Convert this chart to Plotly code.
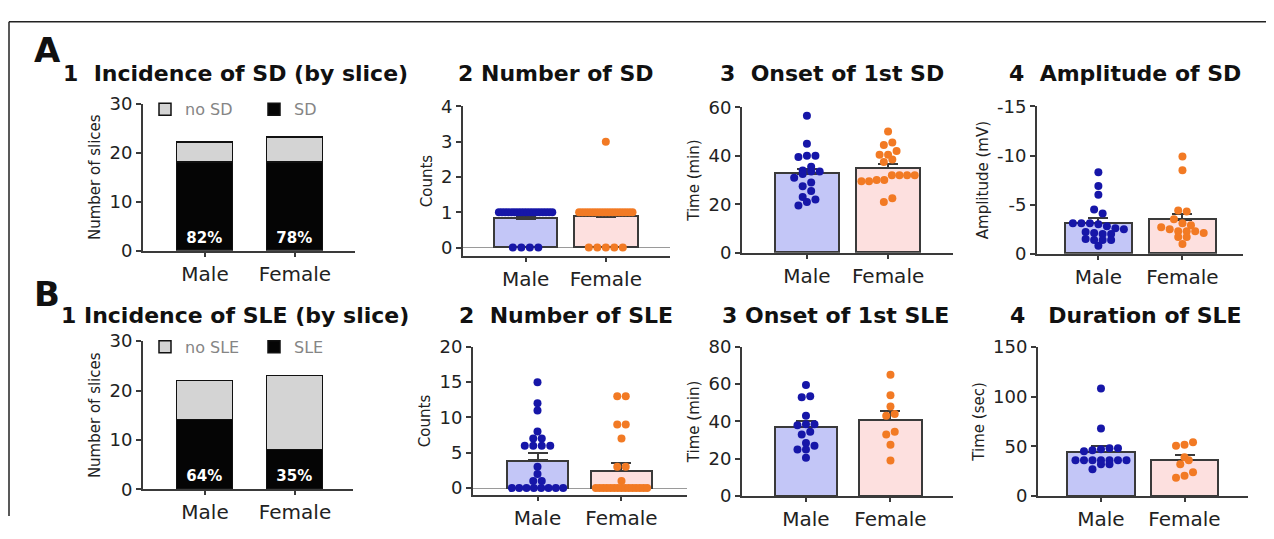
import plotly.graph_objects as go

# The page body has an 8px margin: the figure is sized so that the page is exactly the window,
# and all layout positions below are given in window pixels.
WIN_W, WIN_H = 1274, 539
OFF = 8
W, H = WIN_W - 2 * OFF, WIN_H - 2 * OFF

groups = ["Male", "Female"]

# ---- Row A : spreading depolarization (SD) ----
sd_yes = [18, 18]
sd_no = [4, 5]
sd_pct = ["82%", "78%"]

sd_num_male = [1, 1, 1, 1, 1, 1, 1, 1, 1, 1, 1, 1, 1, 1, 1, 1, 1, 1, 0, 0, 0, 0]
sd_num_female = [3, 1, 1, 1, 1, 1, 1, 1, 1, 1, 1, 1, 1, 1, 1, 1, 1, 1, 0, 0, 0, 0, 0]
sd_num_mean = [0.82, 0.87]
sd_num_sem = [0.08, 0.13]

sd_onset_male = [56.5, 45, 40, 39.5, 40, 33.5, 33.5, 34, 35.5, 31, 29, 32.5, 27.5, 25.5, 22, 23, 19.5, 21]
sd_onset_female = [50, 44.5, 45.5, 40.5, 42, 40.5, 38.5, 37.5, 32, 32, 32, 32, 30, 29.5, 30, 29.5, 21, 22.5]
sd_onset_mean = [32.7, 35.0]
sd_onset_sem = [2.0, 1.8]

sd_amp_male = [-8.3, -6.9, -6.0, -4.5, -4.1, -3.1, -3.0, -3.1, -3.1, -2.8, -2.6, -2.5, -2.1, -2.0, -2.2, -2.0,
               -1.4, -1.4, -1.4, -1.5, -0.8]
sd_amp_female = [-9.9, -8.5, -4.4, -4.3, -3.5, -3.1, -2.9, -2.7, -2.5, -2.3, -2.3, -2.3, -2.1, -1.7, -1.7, -1.0]
sd_amp_mean = [-3.1, -3.45]
sd_amp_sem = [0.55, 0.6]

# ---- Row B : seizure-like events (SLE) ----
sle_yes = [14, 8]
sle_no = [8, 15]
sle_pct = ["64%", "35%"]

sle_num_male = [15, 12, 11, 8, 7, 7, 6, 6, 6, 6, 3, 2, 1, 1, 0, 0, 0, 0, 0, 0, 0, 0]
sle_num_female = [13, 13, 9, 9, 7, 3, 3, 1, 0, 0, 0, 0, 0, 0, 0, 0, 0, 0, 0, 0, 0, 0, 0]
sle_num_mean = [3.9, 2.4]
sle_num_sem = [1.0, 1.1]

sle_onset_male = [59.5, 53, 53.5, 43, 38.5, 38, 38.5, 33, 34.5, 27, 25, 25, 28.5, 20.5]
sle_onset_female = [65, 54, 48, 44, 43, 34.5, 33, 27.5, 19]
sle_onset_mean = [37.0, 40.8]
sle_onset_sem = [3.2, 4.7]

sle_dur_male = [108, 68, 48, 48, 47, 46, 45, 36, 36, 36, 36, 36, 36, 36, 32, 32, 27]
sle_dur_female = [54, 51.5, 50.5, 39, 36, 32, 24, 20.5, 18.5]
sle_dur_mean = [44.5, 36.0]
sle_dur_sem = [5.5, 5.0]

# ---- styling ----
FONT = "DejaVu Sans"
TXT = "#222222"
AX = "#3a3a3a"
MALE_FILL = "#c3c6f7"
FEMALE_FILL = "#fde0df"
MALE_DOT = "#1616a8"
FEMALE_DOT = "#f27a24"
DOT = 8

fig = go.Figure()


def px_x(p):
    return (p - OFF) / W


def px_y(p):
    return 1 - (p - OFF) / H


# panel geometry (window pixels): x-axis left/right, y top/bottom, x range, bar width
panels = [
    ("", 143, 355, 97, 252, [-0.689, 1.667], 0.63),
    ("2", 463, 670, 100, 257, [-0.78, 1.80], 0.79),
    ("3", 742, 953, 101, 254, [-0.80, 1.80], 0.78),
    ("4", 1037, 1243, 100, 255, [-0.73, 1.72], 0.80),
    ("5", 143, 353, 347, 503, [-0.689, 1.644], 0.63),
    ("6", 473, 687, 353, 509, [-0.768, 1.78], 0.73),
    ("7", 742, 953, 353, 510, [-0.757, 1.74], 0.74),
    ("8", 1038, 1248, 353, 510, [-0.754, 1.76], 0.81),
]

yspecs = [
    ([0, 30], [0, 10, 20, 30], ["0", "10", "20", "30"], "Number of slices", False),
    ([-0.23, 4], [0, 1, 2, 3, 4], ["0", "1", "2", "3", "4"], "Counts", True),
    ([0, 60], [0, 20, 40, 60], ["0", "20", "40", "60"], "Time (min)", False),
    ([0, -15], [0, -5, -10, -15], ["0", "-5", "-10", "-15"], "Amplitude (mV)", False),
    ([0, 30], [0, 10, 20, 30], ["0", "10", "20", "30"], "Number of slices", False),
    ([-1, 20], [0, 5, 10, 15, 20], ["0", "5", "10", "15", "20"], "Counts", True),
    ([0, 80], [0, 20, 40, 60, 80], ["0", "20", "40", "60", "80"], "Time (min)", False),
    ([0, 150], [0, 50, 100, 150], ["0", "50", "100", "150"], "Time (sec)", False),
]

scale = {}
layout_axes = {}
for (pid, xl, xr, yt, yb, xr_rng, bw), (yr, tv, tt, ytitle, zero) in zip(panels, yspecs):
    scale[pid] = ((xr - xl) / (xr_rng[1] - xr_rng[0]), (yb - yt) / abs(yr[1] - yr[0]), bw)
    layout_axes["xaxis" + pid] = dict(
        domain=[px_x(xl), px_x(xr)], range=xr_rng, anchor="y" + pid,
        tickvals=[0, 1], ticktext=groups, showline=True, linecolor=AX, linewidth=2,
        ticks="outside", ticklen=4, tickwidth=2, tickcolor=AX, showgrid=False, zeroline=False,
        tickfont=dict(size=20, color=TXT, family=FONT), fixedrange=True)
    layout_axes["yaxis" + pid] = dict(
        domain=[px_y(yb), px_y(yt)], range=yr, anchor="x" + pid,
        tickvals=tv, ticktext=tt, showline=True, linecolor=AX, linewidth=2,
        ticks="outside", ticklen=5, tickwidth=2, tickcolor=AX, showgrid=False,
        zeroline=zero, zerolinecolor="#9a9a9a", zerolinewidth=1,
        tickfont=dict(size=18, color=TXT, family=FONT),
        title=dict(text=ytitle, font=dict(size=15, color=TXT, family=FONT), standoff=5),
        fixedrange=True)


def swarm(vals, pid):
    """Scatter-dot-plot layout: points closer than a dot diameter share a row."""
    ppx, ppy, bw = scale[pid]
    half = bw * ppx / 2 - DOT / 2 - 1
    order = sorted(range(len(vals)), key=lambda i: vals[i])
    rows = []
    for i in order:
        ypix = vals[i] * ppy
        if rows and abs(ypix - rows[-1][0]) < DOT * 0.85:
            rows[-1][1].append(i)
        else:
            rows.append([ypix, [i]])
    offs = [0.0] * len(vals)
    for _, idx in rows:
        k = len(idx)
        step = DOT + 0.5 if k < 2 else min(DOT + 0.5, 2 * half / (k - 1))
        for j, i in enumerate(idx):
            offs[i] = (j - (k - 1) / 2) * step / ppx
    return offs


def incidence(pid, yes, no, pct, yes_name, no_name, legend):
    bw = scale[pid][2]
    xa, ya = "x" + pid, "y" + pid
    fig.add_trace(go.Bar(
        x=[0, 1], y=yes, width=bw, name=yes_name, legend=legend,
        marker=dict(color="#050505", line=dict(color="#111111", width=1.5)),
        text=pct, textposition="inside", insidetextanchor="start", textangle=0,
        textfont=dict(color="white", size=15, family=FONT, weight="bold"),
        xaxis=xa, yaxis=ya, hoverinfo="skip"))
    fig.add_trace(go.Bar(
        x=[0, 1], y=no, width=bw, name=no_name, legend=legend,
        marker=dict(color="#d4d4d4", line=dict(color="#111111", width=1.5)),
        xaxis=xa, yaxis=ya, hoverinfo="skip"))


def dots(pid, mean, sem, male, female, neg=False):
    bw = scale[pid][2]
    xa, ya = "x" + pid, "y" + pid
    err = dict(type="data", symmetric=False,
               array=[0, 0] if neg else sem,
               arrayminus=sem if neg else [0, 0],
               color=AX, thickness=2, width=10)
    fig.add_trace(go.Bar(
        x=[0, 1], y=mean, width=bw, showlegend=False,
        marker=dict(color=[MALE_FILL, FEMALE_FILL], line=dict(color=AX, width=2)),
        error_y=err, xaxis=xa, yaxis=ya, hoverinfo="skip"))
    for i, (vals, col) in enumerate([(male, MALE_DOT), (female, FEMALE_DOT)]):
        offs = swarm(vals, pid)
        fig.add_trace(go.Scatter(
            x=[i + o for o in offs], y=vals, mode="markers",
            marker=dict(color=col, size=DOT, line=dict(width=0)),
            showlegend=False, xaxis=xa, yaxis=ya, cliponaxis=False))


incidence("", sd_yes, sd_no, sd_pct, "SD", "no SD", "legend")
dots("2", sd_num_mean, sd_num_sem, sd_num_male, sd_num_female)
dots("3", sd_onset_mean, sd_onset_sem, sd_onset_male, sd_onset_female)
dots("4", sd_amp_mean, sd_amp_sem, sd_amp_male, sd_amp_female, neg=True)
incidence("5", sle_yes, sle_no, sle_pct, "SLE", "no SLE", "legend2")
dots("6", sle_num_mean, sle_num_sem, sle_num_male, sle_num_female)
dots("7", sle_onset_mean, sle_onset_sem, sle_onset_male, sle_onset_female)
dots("8", sle_dur_mean, sle_dur_sem, sle_dur_male, sle_dur_female)

NB = "\u00a0"
titles = [
    ("1" + NB + NB + "Incidence of SD (by slice)", 235, 65),
    ("2 Number of SD", 556, 65),
    ("3" + NB + NB + "Onset of 1st SD", 832, 65),
    ("4" + NB + NB + "Amplitude of SD", 1125, 65),
    ("1 Incidence of SLE (by slice)", 235, 320),
    ("2" + NB + NB + "Number of SLE", 566, 320),
    ("3 Onset of 1st SLE", 836, 320),
    ("4" + NB + NB + NB + "Duration of SLE", 1126, 320),
]
annotations = []
for text, cx, cy in titles:
    annotations.append(dict(text=text, x=px_x(cx), y=px_y(cy), xref="paper", yref="paper",
                            xanchor="center", yanchor="middle", showarrow=False,
                            font=dict(size=22, color="#111111", family=FONT, weight="bold")))
for letter, cx, cy in [("A", 47, 41), ("B", 47, 297)]:
    annotations.append(dict(text=letter, x=px_x(cx), y=px_y(cy), xref="paper", yref="paper",
                            xanchor="center", yanchor="middle", showarrow=False,
                            font=dict(size=34, color="#111111", family=FONT, weight="bold")))

legend_common = dict(orientation="h", xanchor="left", yanchor="middle", traceorder="reversed",
                     bgcolor="rgba(0,0,0,0)", font=dict(size=16, color="#858585", family=FONT),
                     itemwidth=30, entrywidth=64, entrywidthmode="pixels")

fig.update_layout(
    width=W, height=H,
    margin=dict(l=0, r=0, t=0, b=0),
    paper_bgcolor="white", plot_bgcolor="rgba(0,0,0,0)",
    barmode="stack", bargap=0,
    font=dict(family=FONT, color=TXT),
    annotations=annotations,
    legend=dict(x=px_x(145), y=px_y(103), **legend_common),
    legend2=dict(x=px_x(145), y=px_y(353), **legend_common),
    shapes=[
        dict(type="line", xref="paper", yref="paper", x0=px_x(9), x1=1, y0=px_y(11), y1=px_y(11),
             line=dict(color="#222222", width=1.5)),
        dict(type="line", xref="paper", yref="paper", x0=px_x(9), x1=px_x(9), y0=px_y(11), y1=0,
             line=dict(color="#222222", width=1.5)),
    ],
    **layout_axes,
)

fig.write_html("out.html")
